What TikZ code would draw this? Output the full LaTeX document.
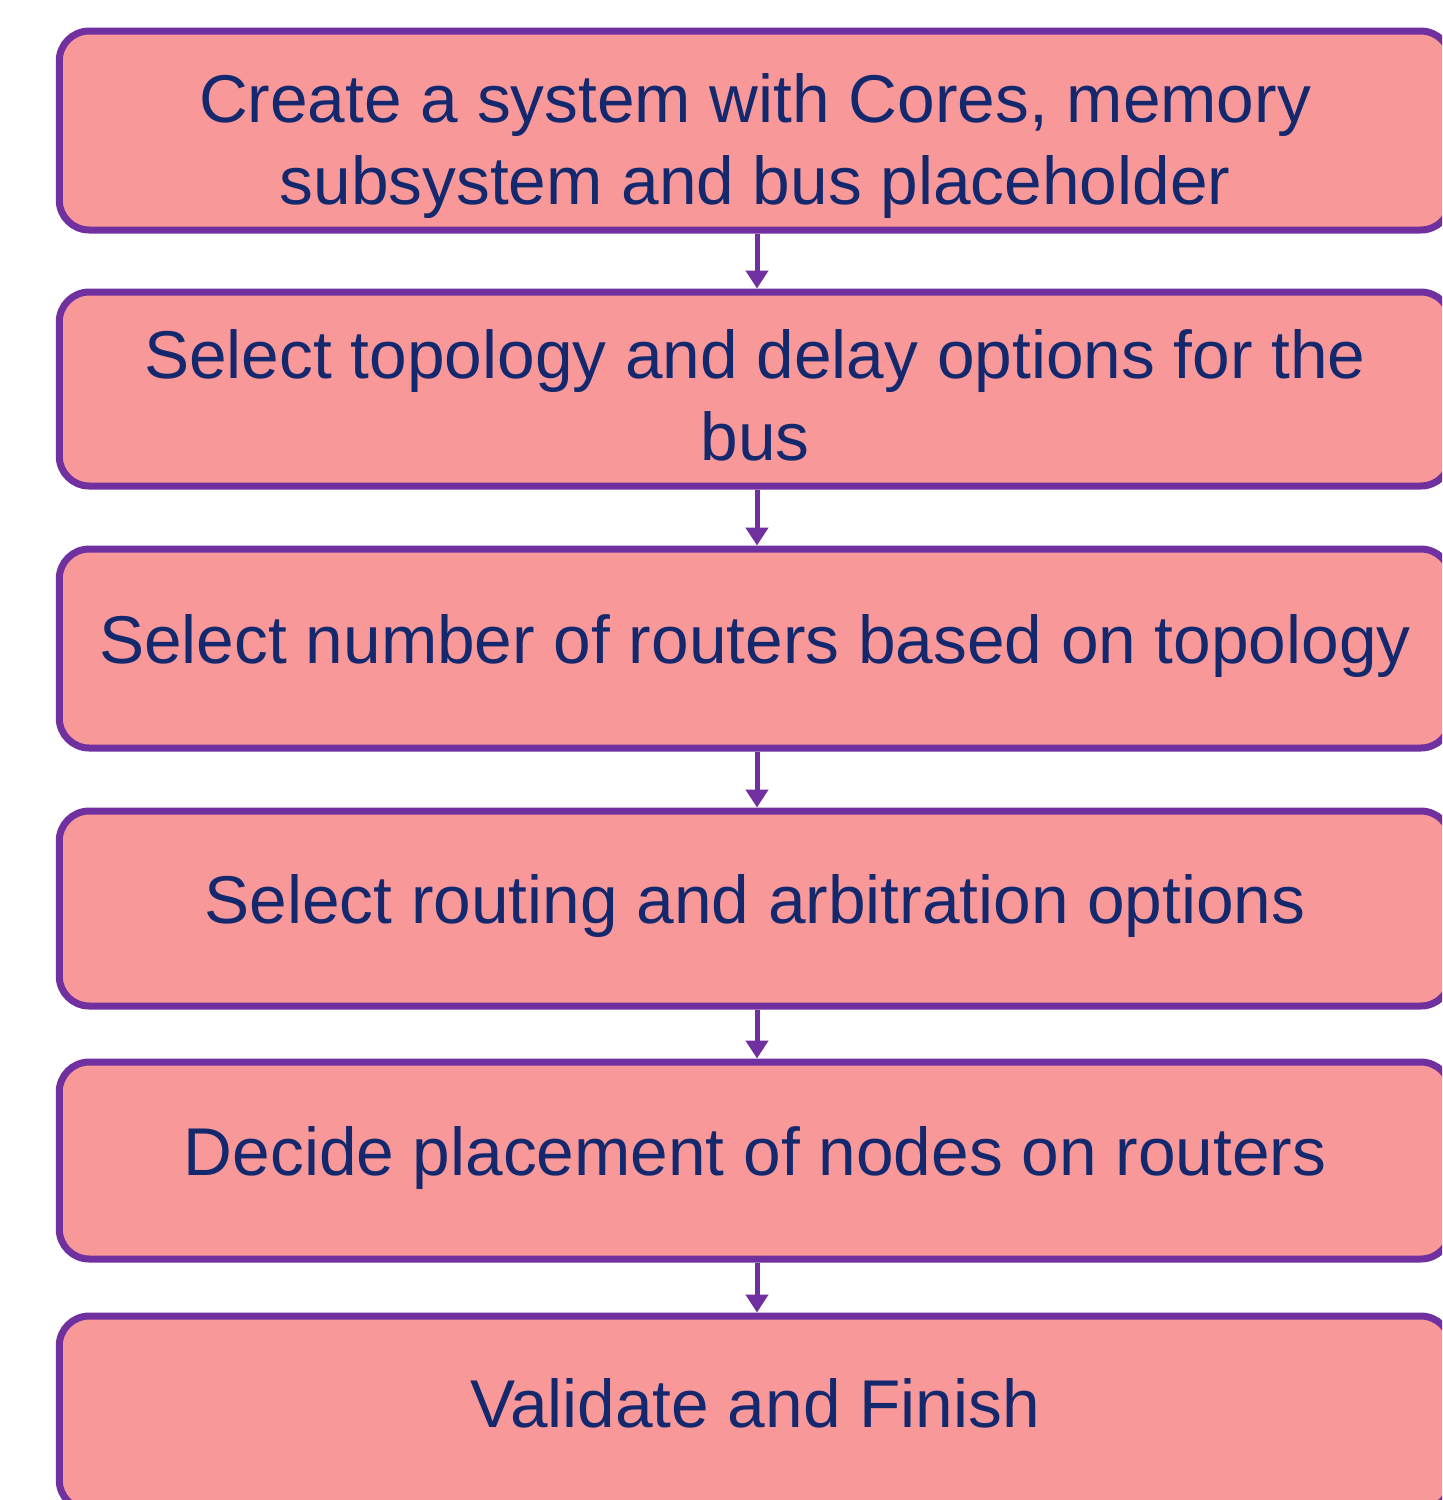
\documentclass[tikz,border=0pt]{standalone}
\usepackage{fontspec}
\setmainfont{Liberation Sans}
\usetikzlibrary{arrows.meta}
\definecolor{boxfill}{HTML}{F99898}
\definecolor{boxline}{HTML}{7030A0}
\definecolor{boxtext}{HTML}{14286E}
\newcommand\flowtext[2]{\raisebox{#1}[0pt][0pt]{\begin{tabular}[t]{@{}c@{}}#2\end{tabular}}}
\begin{document}
\begin{tikzpicture}[x=0.5pt,y=-0.5pt,
  flowbox/.style={draw=boxline, fill=boxfill, line width=3.5pt, rounded corners=15pt,
    minimum width=695.75pt, text=boxtext, inner sep=0pt,
    font=\fontsize{33.8}{41}\selectfont},
  flowarrow/.style={draw=boxline, line width=2.5pt, -{Triangle[width=11pt,length=9pt]}}]
\path[use as bounding box, clip] (0,0) rectangle (1442,1500);
\node[flowbox, minimum height=99.5pt] (b1) at (755,130.5) {\flowtext{4.25pt}{Create a system with Cores, memory\\subsystem and bus placeholder}};
\node[flowbox, minimum height=97pt] (b2) at (755,389) {\flowtext{5.5pt}{Select topology and delay options for the\\bus}};
\node[flowbox, minimum height=99.5pt] (b3) at (755,648.5) {\flowtext{-7.25pt}{Select number of routers based on topology}};
\node[flowbox, minimum height=97.5pt] (b4) at (755,908.5) {\flowtext{-7.5pt}{Select routing and arbitration options}};
\node[flowbox, minimum height=98.5pt] (b5) at (755,1160.5) {\flowtext{-7.25pt}{Decide placement of nodes on routers}};
\node[flowbox, minimum height=97pt] (b6) at (755,1413) {\flowtext{-7pt}{Validate and Finish}};
\draw[flowarrow] ([xshift=1pt]b1.south) -- ([xshift=1pt]b2.north);
\draw[flowarrow] ([xshift=1pt]b2.south) -- ([xshift=1pt]b3.north);
\draw[flowarrow] ([xshift=1pt]b3.south) -- ([xshift=1pt]b4.north);
\draw[flowarrow] ([xshift=1pt]b4.south) -- ([xshift=1pt]b5.north);
\draw[flowarrow] ([xshift=1pt]b5.south) -- ([xshift=1pt]b6.north);
\end{tikzpicture}
\end{document}
